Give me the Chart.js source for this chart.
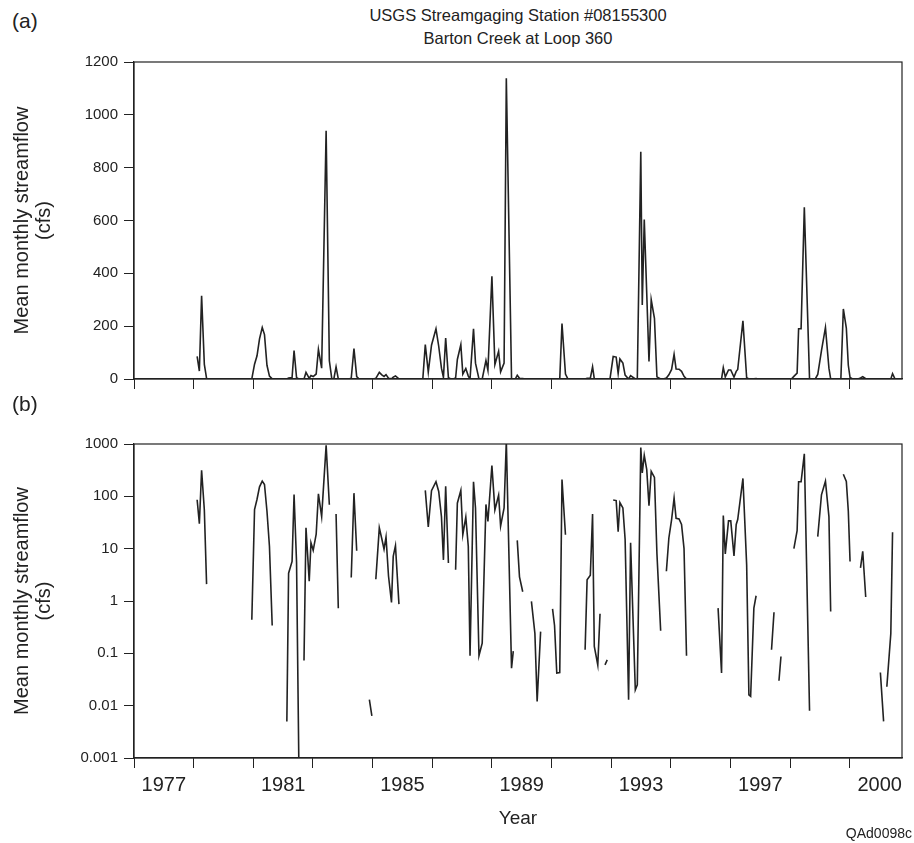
<!DOCTYPE html>
<html lang="en">
<head>
<meta charset="UTF-8">
<title>Barton Creek at Loop 360 - mean monthly streamflow</title>
<script src="https://cdn.jsdelivr.net/npm/chart.js@4.4.1/dist/chart.umd.min.js"></script>
<style>
    * {
        margin: 0;
        padding: 0;
        box-sizing: border-box;
    }

    body {
        background: #fff;
        color: #222;
        font-family: 'Liberation Sans', Arial, sans-serif;
    }

    .page {
        position: relative;
        width: 914px;
        height: 843px;
    }

    .panel {
        position: absolute;
        left: 0;
    }

    .tag {
        position: absolute;
        left: 12px;
        font-size: 21px;
        line-height: 1;
    }

    .title {
        position: absolute;
        left: 134px;
        top: 4px;
        width: 768px;
        text-align: center;
        font-size: 16.5px;
        line-height: 23px;
    }

    .code {
        position: absolute;
        right: 2px;
        bottom: 2px;
        font-size: 14px;
    }
</style>
</head>
<body>
<div class="page">
    <div class="title">USGS Streamgaging Station #08155300<br>Barton Creek at Loop 360</div>
    <div class="tag" style="top:10px">(a)</div>
    <canvas id="linearChart" class="panel" style="top:0" width="914" height="400"></canvas>
    <div class="tag" style="top:393px">(b)</div>
    <canvas id="logChart" class="panel" style="top:400px" width="914" height="443"></canvas>
    <div class="code">QAd0098c</div>
</div>

<script>
    // months counted from the left edge of the axis (Jan 1976)
    const flowMonths = [
        25.4, 26.3, 27.2, 28.3, 29.2, 30.2,
        46.4, 47.4, 48.5, 49.5, 50.5, 51.6, 52.5, 53.5, 54.5, 55.6, 56.6,
        60.5, 61.5, 62.2, 63.6, 64.4, 65.4, 66.3, 67.3,
        68.4, 69.2, 70.5, 71.2, 72.1, 73.3, 74.2, 75.5, 77.3, 78.6, 79.6, 80.4, 81.3, 82.2, 83.2,
        86.4, 87.4, 88.5, 89.6, 90.6,
        93.7, 94.7, 95.7, 96.5,
        97.3, 98.7, 99.7, 100.6, 101.4, 102.4, 103.6, 104.3, 105.2, 106.6, 107.6,
        116.2, 117.2, 118.4, 119.7, 121.5, 122.6, 123.7, 124.5, 125.4, 126.5, 127.5,
        128.4, 129.4, 130.1, 131.5, 132.3, 133.5, 134.5, 135.2, 136.6, 137.4, 138.8, 140.1,
        141.6, 142.4, 144.0, 145.2, 146.7, 147.5, 148.9, 149.8, 151.9, 152.6, 153.4,
        154.2, 155.1, 156.4, 157.4,
        158.9, 159.9, 161.3, 162.2, 163.6, 164.6,
        167.4, 168.4, 169.2, 170.1, 171.3, 172.2, 173.6, 174.6,
        180.5, 181.5, 182.3, 183.6, 184.5, 185.2, 186.6, 187.5, 188.5, 189.5, 190.4, 191.5,
        192.8, 194.0, 194.8, 195.5, 196.7, 197.6, 199.0, 199.8, 201.7, 202.5, 203.9, 204.5,
        205.3, 206.3, 207.2, 208.1, 209.4, 210.4, 211.9, 213.0,
        214.2, 215.2, 216.3, 217.3, 218.1, 219.3, 220.3, 221.3, 222.3, 223.3,
        234.0, 235.0, 236.4, 237.1, 237.9, 239.2, 240.1, 241.4, 242.3, 242.9, 245.0, 246.5,
        247.4, 248.1, 249.4, 250.3, 251.3,
        255.5, 256.5, 257.5, 258.5, 259.5, 260.3, 261.3,
        264.5, 265.5, 266.8, 267.4, 268.4, 269.7, 271.8, 272.8,
        274.1, 275.1, 276.6, 278.2, 279.6, 280.3, 281.3,
        284.4, 285.4, 286.6, 287.4, 288.1, 289.1,
        291.3, 292.3, 293.2, 294.4, 295.4,
        299.3, 300.3, 301.6, 302.3, 302.9, 304.5, 305.2, 306.2, 308.8
    ];

    // mean monthly streamflow, cfs
    const flowCfs = [
        86, 30, 315, 55, 2.1, 0,
        0, 0.44, 56, 88, 152, 195, 168, 52, 11, 0.34, 0,
        0, 0.005, 3.4, 5.7, 108, 5.5, 0.001, 0,
        0.073, 25, 2.4, 13, 9.3, 19, 112, 41, 940, 69, 0, 0, 46, 0.73, 0,
        0, 2.8, 115, 9.1, 0,
        0, 0.013, 0.0064, 0,
        2.6, 25, 15.5, 9.8, 16.7, 3, 0.94, 7.1, 11.4, 0.87, 0,
        0, 130, 26, 128, 190, 124, 41, 6.1, 155, 5.3, 0,
        0, 3.95, 74, 130, 18.5, 40, 11, 0.09, 190, 60, 0.09, 0.157,
        70, 33, 389, 55, 105, 27, 60, 1138, 0.052, 0.11, 0,
        14.4, 2.9, 1.5, 0,
        0, 0.98, 0.24, 0.012, 0.26, 0,
        0, 0.71, 0.34, 0.042, 0.043, 210, 18.5, 0,
        0, 0.117, 2.55, 3.1, 46, 0.135, 0.06, 0.57, 0, 0.06, 0.075, 0,
        85, 83, 21, 76, 60, 15, 0.013, 13, 0.02, 0.025, 860, 280,
        604, 323, 66, 300, 230, 8, 0.27, 0,
        3.7, 16, 36, 93, 38, 37, 29, 10, 0.09, 0,
        0, 0.73, 0.042, 43, 7.9, 34, 34, 7.3, 29, 36, 220, 4.9,
        0.016, 0.015, 0.73, 1.26, 0,
        0, 0.117, 0.61, 0, 0.03, 0.087, 0,
        0, 10, 22, 190, 190, 650, 0.008, 0,
        0, 17, 107, 195, 41, 0.63, 0,
        0, 265, 193, 52, 5.7, 0,
        0, 4.3, 8.9, 1.19, 0,
        0, 0.043, 0.005, 0, 0.023, 0.24, 20.5, 0, 0
    ];

    const axisEndMonth = 309;
    const yearTickMonths = [0, 24, 48, 72, 96, 120, 144, 168, 192, 216, 240, 264, 288];
    const yearLabelMonths = [12, 60, 108, 156, 204, 252, 300];
    const yearLabels = ['1977', '1981', '1985', '1989', '1993', '1997', '2000'];

    const linearTicks = [0, 200, 400, 600, 800, 1000, 1200];
    const logTicks = [0.001, 0.01, 0.1, 1, 10, 100, 1000];
    const logTickLabels = ['0.001', '0.01', '0.1', '1', '10', '100', '1000'];

    const FONT = "'Liberation Sans', Arial, sans-serif";
    const INK = '#222';

    // closes the box around the plot area
    const frame = {
        id: 'frame',
        afterDatasetsDraw(chart) {
            const { ctx, chartArea: a } = chart;
            ctx.save();
            ctx.strokeStyle = INK;
            ctx.lineWidth = 1.2;
            ctx.strokeRect(a.left, a.top, a.right - a.left, a.bottom - a.top);
            ctx.restore();
        }
    };

    const yTitle = {
        display: true,
        text: ['Mean monthly streamflow', '(cfs)'],
        color: INK,
        font: { family: FONT, size: 20, lineHeight: 1.1 },
        padding: { top: 11, bottom: 0 }
    };

    function xAxis(withLabels, height) {
        const marks = withLabels ? yearTickMonths.concat(yearLabelMonths).sort((a, b) => a - b) : yearTickMonths;
        return {
            type: 'linear',
            min: 0,
            max: axisEndMonth,
            afterBuildTicks: s => { s.ticks = marks.map(v => ({ value: v })); },
            afterFit: s => { s.height = height; },
            ticks: {
                display: withLabels,
                autoSkip: false,
                maxRotation: 0,
                color: INK,
                padding: 5,
                font: { family: FONT, size: 20 },
                callback: v => {
                    const i = yearLabelMonths.indexOf(v);
                    return i >= 0 ? yearLabels[i] : '';
                }
            },
            grid: {
                drawOnChartArea: false,
                tickLength: 10,
                color: INK,
                tickColor: c => (c.tick && yearLabelMonths.includes(c.tick.value)) ? 'rgba(0,0,0,0)' : INK
            },
            border: { color: INK, width: 1.2 },
            title: {
                display: withLabels,
                text: 'Year',
                color: INK,
                font: { family: FONT, size: 19 },
                padding: { top: 0, bottom: 13 }
            }
        };
    }

    function lineData(values) {
        return {
            datasets: [{
                data: flowMonths.map((m, i) => ({ x: m, y: values[i] })),
                borderColor: INK,
                borderWidth: 1.6,
                pointRadius: 0,
                tension: 0,
                spanGaps: false,
                fill: false
            }]
        };
    }

    const common = {
        responsive: false,
        animation: false,
        devicePixelRatio: 1,
        events: [],
        plugins: { legend: { display: false }, tooltip: { enabled: false } }
    };

    // (a) linear scale
    new Chart(document.getElementById('linearChart'), {
        type: 'line',
        data: lineData(flowCfs),
        plugins: [frame],
        options: {
            ...common,
            layout: { padding: { top: 62, right: 12, bottom: 0, left: 0 } },
            scales: {
                x: xAxis(false, 21),
                y: {
                    min: 0,
                    max: 1200,
                    afterBuildTicks: s => { s.ticks = linearTicks.map(v => ({ value: v })); },
                    afterFit: s => { s.width = 134; },
                    ticks: { color: INK, padding: 6, font: { family: FONT, size: 15 }, callback: v => String(v) },
                    grid: { drawOnChartArea: false, tickLength: 10, color: INK },
                    border: { color: INK, width: 1.2 },
                    title: yTitle
                }
            }
        }
    });

    // (b) log scale, months without flow leave gaps
    new Chart(document.getElementById('logChart'), {
        type: 'line',
        data: lineData(flowCfs.map(v => v > 0 ? v : null)),
        plugins: [frame],
        options: {
            ...common,
            layout: { padding: { top: 44, right: 12, bottom: 0, left: 0 } },
            scales: {
                x: xAxis(true, 85),
                y: {
                    type: 'logarithmic',
                    min: 0.001,
                    max: 1000,
                    afterBuildTicks: s => { s.ticks = logTicks.map(v => ({ value: v })); },
                    afterFit: s => { s.width = 134; },
                    ticks: {
                        color: INK,
                        padding: 6,
                        font: { family: FONT, size: 15 },
                        callback: v => logTickLabels[logTicks.indexOf(v)]
                    },
                    grid: { drawOnChartArea: false, tickLength: 10, color: INK },
                    border: { color: INK, width: 1.2 },
                    title: yTitle
                }
            }
        }
    });
</script>
</body>
</html>
